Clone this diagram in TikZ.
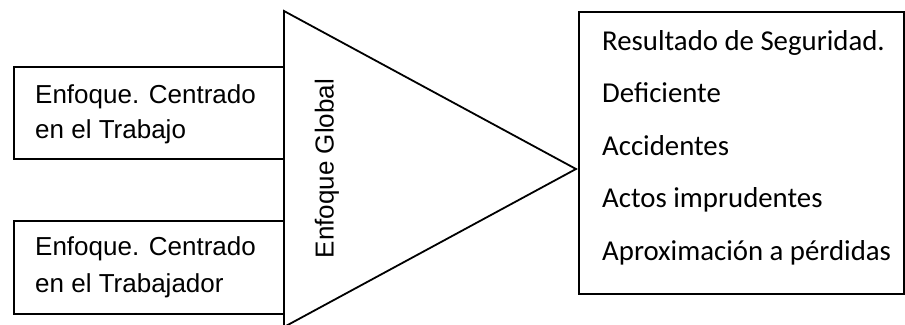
\documentclass[tikz,border=0pt]{standalone}
\usepackage{fontspec}
\setmainfont{Liberation Sans}
\newfontfamily\carlitofont{Carlito}
\begin{document}
\begin{tikzpicture}[x=1pt,y=-1pt,
  frame/.style={draw=black,line width=1.8pt,fill=white,inner sep=0pt},
  lefttext/.style={font=\fontsize{26}{30}\selectfont,anchor=base west,inner sep=0pt},
  righttext/.style={font=\carlitofont\fontsize{28.8}{33}\selectfont,anchor=base west,inner sep=0pt}]
\useasboundingbox (0,0) rectangle (905,324);

% input boxes on the left
\node[frame,minimum width=271pt,minimum height=92pt,anchor=north west] (work) at (13,66) {};
\node[frame,minimum width=271pt,minimum height=93pt,anchor=north west] (worker) at (13,220) {};
\node[lefttext] (work1) at (35,103) {Enfoque. Centrado};
\node[lefttext] (work2) at (35,138) {en el Trabajo};
\node[lefttext] (worker1) at (35,255) {Enfoque. Centrado};
\node[lefttext] (worker2) at (35,292) {en el Trabajador};

% the global approach triangle
\coordinate (top) at (284,11);
\coordinate (bottom) at (284,327);
\coordinate (apex) at (576,169);
\draw[line width=1.8pt,fill=white,line join=miter] (top) -- (apex) -- (bottom) -- cycle;
\node[font=\fontsize{26}{30}\selectfont,rotate=90,inner sep=0pt] (global) at (327,168.5) {Enfoque Global};

% result box on the right
\node[frame,minimum width=325pt,minimum height=282pt,anchor=north west] (result) at (578,11) {};
\node[righttext] (r1) at (602,50) {Resultado de Seguridad.};
\node[righttext] (r2) at (602,102.5) {Deficiente};
\node[righttext] (r3) at (602,155) {Accidentes};
\node[righttext] (r4) at (602,207.5) {Actos imprudentes};
\node[righttext] (r5) at (602,260) {Aproximación a pérdidas};
\end{tikzpicture}
\end{document}
